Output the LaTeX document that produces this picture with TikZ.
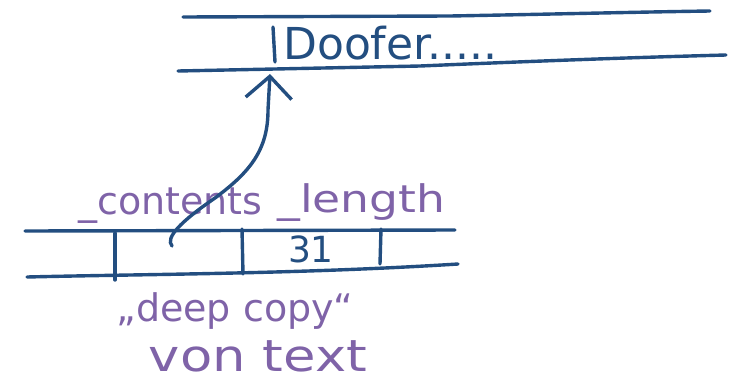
\documentclass[tikz,border=0pt]{standalone}
\usepackage{fontspec}
\setmainfont{DejaVu Sans}
\usetikzlibrary{arrows.meta}
\definecolor{ink}{HTML}{234E80}
\definecolor{violet}{HTML}{7F63A8}
\tikzset{
  pen/.style={draw=ink, line width=3.4pt, line cap=round, line join=round},
  inktext/.style={text=ink, inner sep=0pt, font=\fontsize{44}{48}\selectfont},
  note/.style={text=violet, inner sep=0pt, font=\fontsize{38}{42}\selectfont},
}
\begin{document}
\begin{tikzpicture}[x=1pt, y=-1pt]
  \useasboundingbox (0,0) rectangle (731,386);

  % upper memory row (the heap buffer)
  \draw[pen] (183,17) -- (450,16) .. controls (560,14) and (640,12) .. (710,11);
  \draw[pen] (178,71) -- (420,66) .. controls (560,60) and (650,57) .. (726,55);
  \draw[pen] (273,27) -- (275,62);
  \node[inktext, anchor=west] (buf) at (283,43) {Doofer.....};
  \coordinate (bufslot) at (270,74);

  % lower memory row (the string object)
  \draw[pen] (25,231) -- (455,230);
  \draw[pen] (27,277) .. controls (150,274) and (300,274) .. (458,264);
  \draw[pen] (115,233) -- (115,280);
  \draw[pen] (242,229) -- (243,274);
  \draw[pen] (381,229) -- (380,264);
  \node[inktext, anchor=center, font=\fontsize{36}{40}\selectfont] (len) at (311,249) {31};
  \coordinate (ptr) at (172,246);

  % field names
  \node[note, anchor=base west] (fcont) at (78,214) {\_contents};
  \node[note, anchor=base west, xscale=1.2] (flen) at (277,212) {\_length};

  % pointer from _contents to the buffer
  \draw[pen, -{Straight Barb[length=22pt, width=46pt, line width=3.4pt]}]
    (ptr) .. controls (165,238) and (180,222) .. (215,198)
          .. controls (250,172) and (268,150) .. (268,110)
          -- (bufslot);

  % caption
  \node[note, anchor=center] (cap1) at (235,311) {„deep copy“};
  \node[note, anchor=center, font=\fontsize{44}{48}\selectfont, xscale=1.2] (cap2) at (258,356) {von text};
\end{tikzpicture}
\end{document}
